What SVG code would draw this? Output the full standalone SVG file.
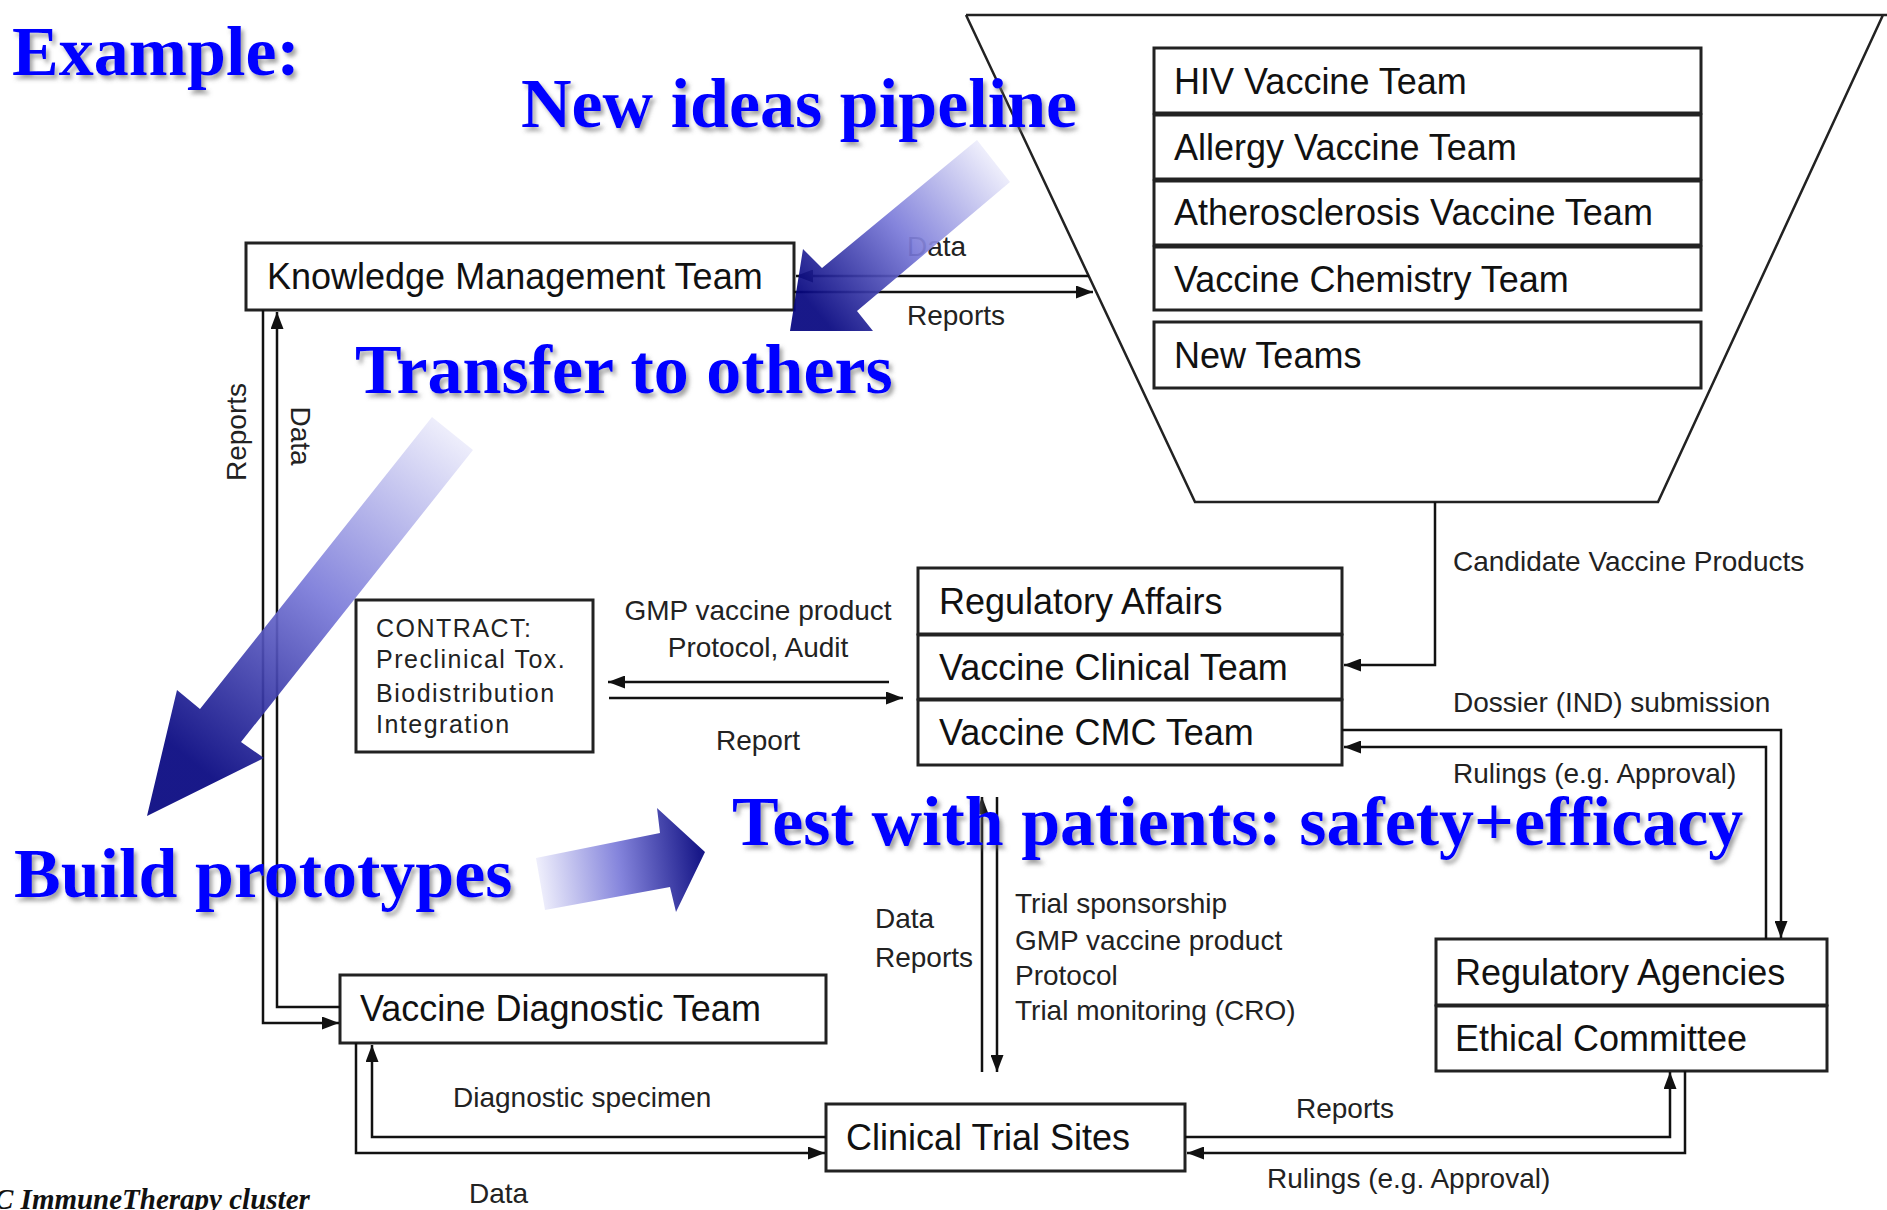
<svg xmlns="http://www.w3.org/2000/svg" width="1887" height="1210" viewBox="0 0 1887 1210">
<defs>
<style>
.box{fill:#fff;stroke:#222;stroke-width:3}
.bt{font-family:"Liberation Sans",Arial,sans-serif;font-size:36px;fill:#111}
.lb{font-family:"Liberation Sans",Arial,sans-serif;font-size:28px;fill:#222}
.ct{font-family:"Liberation Sans",Arial,sans-serif;font-size:25px;fill:#222;letter-spacing:1.5px}
.cn{fill:none;stroke:#111;stroke-width:2.5}
.big{font-family:"Liberation Serif","Times New Roman",serif;font-weight:bold;font-size:70px;fill:#0000ff;filter:url(#sh)}
.foot{font-family:"Liberation Serif","Times New Roman",serif;font-weight:bold;font-style:italic;font-size:29px;fill:#111}
</style>
<filter id="sh" x="-5%" y="-20%" width="115%" height="150%">
<feDropShadow dx="3" dy="4" stdDeviation="2" flood-color="#666" flood-opacity="0.6"/>
</filter>
<marker id="ah" viewBox="0 0 17 13" refX="17" refY="6.5" markerWidth="17" markerHeight="13" markerUnits="userSpaceOnUse" orient="auto">
<path d="M0,0 L17,6.5 L0,13 z" fill="#111"/>
</marker>
<linearGradient id="g1" gradientUnits="userSpaceOnUse" x1="993" y1="161" x2="815" y2="310">
<stop offset="0" stop-color="#ececfb"/><stop offset="0.5" stop-color="#7a7ad9"/><stop offset="1" stop-color="#05057f"/>
</linearGradient>
<linearGradient id="g2" gradientUnits="userSpaceOnUse" x1="452" y1="433" x2="190" y2="760">
<stop offset="0" stop-color="#ececfb"/><stop offset="0.5" stop-color="#7a7ad9"/><stop offset="1" stop-color="#05057f"/>
</linearGradient>
<linearGradient id="g3" gradientUnits="userSpaceOnUse" x1="540" y1="880" x2="700" y2="860">
<stop offset="0" stop-color="#ececfb"/><stop offset="0.5" stop-color="#7a7ad9"/><stop offset="1" stop-color="#05057f"/>
</linearGradient>
</defs>
<rect width="1887" height="1210" fill="#fff"/>

<g id="funnel">
<path d="M966,15 L1887,15 M1883,15 L1658,502 L1195,502 L966,15" fill="none" stroke="#222" stroke-width="2.5"/>
</g>

<g id="hiv"><rect class="box" x="1154" y="48" width="547" height="65"/><text class="bt" x="1174" y="94">HIV Vaccine Team</text></g>
<g id="allergy"><rect class="box" x="1154" y="115" width="547" height="64"/><text class="bt" x="1174" y="160">Allergy Vaccine Team</text></g>
<g id="athero"><rect class="box" x="1154" y="181" width="547" height="64"/><text class="bt" x="1174" y="225">Atherosclerosis Vaccine Team</text></g>
<g id="chem"><rect class="box" x="1154" y="247" width="547" height="63"/><text class="bt" x="1174" y="292">Vaccine Chemistry Team</text></g>
<g id="newteams"><rect class="box" x="1154" y="322" width="547" height="66"/><text class="bt" x="1174" y="368">New Teams</text></g>

<g id="kmt"><rect class="box" x="246" y="243" width="548" height="67"/><text class="bt" x="267" y="289">Knowledge Management Team</text></g>

<g id="contract"><rect class="box" x="356" y="600" width="237" height="152"/>
<text class="ct" x="376" y="637">CONTRACT:</text>
<text class="ct" x="376" y="668">Preclinical Tox.</text>
<text class="ct" x="376" y="702">Biodistribution</text>
<text class="ct" x="376" y="733">Integration</text></g>

<g id="regaffairs"><rect class="box" x="918" y="568" width="424" height="66"/><text class="bt" x="939" y="614">Regulatory Affairs</text></g>
<g id="clinical"><rect class="box" x="918" y="635" width="424" height="64"/><text class="bt" x="939" y="680">Vaccine Clinical Team</text></g>
<g id="cmc"><rect class="box" x="918" y="700" width="424" height="65"/><text class="bt" x="939" y="745">Vaccine CMC Team</text></g>

<g id="regagencies"><rect class="box" x="1436" y="939" width="391" height="66"/><text class="bt" x="1455" y="985">Regulatory Agencies</text></g>
<g id="ethical"><rect class="box" x="1436" y="1006" width="391" height="65"/><text class="bt" x="1455" y="1051">Ethical Committee</text></g>

<g id="diagnostic"><rect class="box" x="340" y="975" width="486" height="68"/><text class="bt" x="360" y="1021">Vaccine Diagnostic Team</text></g>
<g id="sites"><rect class="box" x="826" y="1104" width="359" height="67"/><text class="bt" x="846" y="1150">Clinical Trial Sites</text></g>

<g id="connectors">
<path class="cn" d="M1089,276 L796,276" marker-end="url(#ah)"/>
<path class="cn" d="M794,292 L1093,292" marker-end="url(#ah)"/>
<path class="cn" d="M340,1007 L277,1007 L277,312" marker-end="url(#ah)"/>
<path class="cn" d="M263,310 L263,1023 L339,1023" marker-end="url(#ah)"/>
<path class="cn" d="M889,682 L608,682" marker-end="url(#ah)"/>
<path class="cn" d="M609,698 L903,698" marker-end="url(#ah)"/>
<path class="cn" d="M1435,502 L1435,665 L1344,665" marker-end="url(#ah)"/>
<path class="cn" d="M1342,730 L1781,730 L1781,938" marker-end="url(#ah)"/>
<path class="cn" d="M1766,939 L1766,747 L1344,747" marker-end="url(#ah)"/>
<path class="cn" d="M982,1072 L982,797" marker-end="url(#ah)"/>
<path class="cn" d="M997,797 L997,1072" marker-end="url(#ah)"/>
<path class="cn" d="M826,1137 L372,1137 L372,1045" marker-end="url(#ah)"/>
<path class="cn" d="M356,1043 L356,1153 L825,1153" marker-end="url(#ah)"/>
<path class="cn" d="M1185,1137 L1670,1137 L1670,1072" marker-end="url(#ah)"/>
<path class="cn" d="M1685,1071 L1685,1153 L1187,1153" marker-end="url(#ah)"/>
</g>

<g id="labels">
<text class="lb" x="907" y="256">Data</text>
<text class="lb" x="907" y="325">Reports</text>
<text class="lb" transform="translate(246,432) rotate(-90)" text-anchor="middle">Reports</text>
<text class="lb" transform="translate(291,436) rotate(90)" text-anchor="middle">Data</text>
<text class="lb" x="758" y="620" text-anchor="middle">GMP vaccine product</text>
<text class="lb" x="758" y="657" text-anchor="middle">Protocol, Audit</text>
<text class="lb" x="758" y="750" text-anchor="middle">Report</text>
<text class="lb" x="1453" y="571">Candidate Vaccine Products</text>
<text class="lb" x="1453" y="712">Dossier (IND) submission</text>
<text class="lb" x="1453" y="783">Rulings (e.g. Approval)</text>
<text class="lb" x="875" y="928">Data</text>
<text class="lb" x="875" y="967">Reports</text>
<text class="lb" x="1015" y="913">Trial sponsorship</text>
<text class="lb" x="1015" y="950">GMP vaccine product</text>
<text class="lb" x="1015" y="985">Protocol</text>
<text class="lb" x="1015" y="1020">Trial monitoring (CRO)</text>
<text class="lb" x="453" y="1107">Diagnostic specimen</text>
<text class="lb" x="469" y="1203">Data</text>
<text class="lb" x="1296" y="1118">Reports</text>
<text class="lb" x="1267" y="1188">Rulings (e.g. Approval)</text>
</g>

<g id="bigarrows" fill-opacity="0.92">
<polygon points="977,140 1010,182 857,311 873,331 790,331 803,249 822,268" fill="url(#g1)"/>
<polygon points="432,417 473,450 241,742 264,758 147,816 177,690 200,709" fill="url(#g2)"/>
<polygon points="536,858 660,833 657,808 705,852 676,912 670,887 545,910" fill="url(#g3)"/>
</g>

<g id="headlines">
<text class="big" x="12" y="75">Example:</text>
<text class="big" x="521" y="127">New ideas pipeline</text>
<text class="big" x="355" y="393">Transfer to others</text>
<text class="big" x="14" y="897">Build prototypes</text>
<text class="big" x="732" y="845">Test with patients: safety+efficacy</text>
</g>
<text class="foot" x="-6" y="1209">C ImmuneTherapy cluster</text>
</svg>
